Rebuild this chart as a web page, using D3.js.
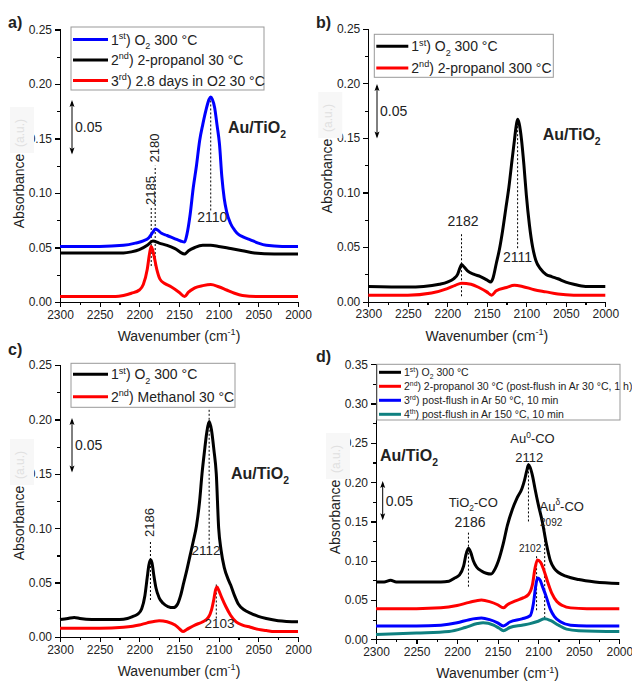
<!DOCTYPE html>
<html>
<head>
<meta charset="utf-8">
<style>
  body { margin: 0; background: #fff; }
  svg text { font-family: 'Liberation Sans', Arial, sans-serif; fill: #222; }
  .axis path, .axis line { fill: none; stroke: #000; stroke-width: 1.2; shape-rendering: crispEdges; }
  .axis text { font-size: 12px; }
</style>
</head>
<body>
<div id="chart"></div>
<script src="https://cdn.jsdelivr.net/npm/d3@7/dist/d3.min.js"></script>
<script>
// ---- data: [wavenumber, absorbance] ----
var aBlue = [[2300,0.051],[2250,0.051],[2220,0.052],[2205,0.054],[2195,0.056],[2188,0.059],[2183,0.064],[2180,0.067],[2177,0.066],[2172,0.063],[2165,0.061],[2155,0.058],[2148,0.056],[2143,0.055],[2140,0.062],[2136,0.080],[2132,0.105],[2128,0.125],[2124,0.148],[2120,0.163],[2116,0.176],[2112,0.186],[2110,0.188],[2108,0.186],[2105,0.178],[2102,0.162],[2099,0.145],[2096,0.115],[2093,0.095],[2090,0.083],[2085,0.072],[2080,0.066],[2075,0.062],[2070,0.060],[2060,0.057],[2050,0.054],[2040,0.052],[2020,0.051],[2000,0.051]];
var aBlack = [[2300,0.045],[2250,0.045],[2220,0.045],[2210,0.046],[2200,0.048],[2190,0.052],[2183,0.056],[2175,0.054],[2165,0.052],[2155,0.049],[2143,0.044],[2138,0.047],[2130,0.050],[2120,0.052],[2110,0.052],[2100,0.051],[2085,0.049],[2070,0.047],[2055,0.045],[2030,0.044],[2000,0.044]];
var aRed = [[2300,0.005],[2250,0.005],[2230,0.005],[2220,0.006],[2210,0.008],[2200,0.011],[2195,0.016],[2190,0.030],[2187,0.045],[2185,0.051],[2182,0.044],[2178,0.030],[2174,0.021],[2168,0.017],[2160,0.014],[2150,0.009],[2143,0.005],[2138,0.009],[2130,0.013],[2120,0.015],[2110,0.016],[2100,0.014],[2090,0.011],[2080,0.008],[2070,0.006],[2050,0.005],[2000,0.005]];

var bBlack = [[2300,0.014],[2250,0.0135],[2230,0.014],[2210,0.016],[2200,0.018],[2192,0.021],[2187,0.025],[2184,0.031],[2182,0.034],[2179,0.032],[2174,0.028],[2166,0.025],[2158,0.023],[2150,0.020],[2145,0.018],[2142,0.022],[2138,0.035],[2134,0.048],[2130,0.065],[2126,0.085],[2122,0.105],[2118,0.130],[2115,0.148],[2113,0.160],[2111,0.167],[2109,0.163],[2106,0.148],[2103,0.125],[2100,0.098],[2096,0.070],[2092,0.050],[2088,0.038],[2082,0.030],[2075,0.025],[2068,0.023],[2060,0.021],[2050,0.018],[2040,0.016],[2025,0.014],[2000,0.014]];
var bRed = [[2300,0.006],[2250,0.006],[2220,0.008],[2200,0.012],[2190,0.015],[2182,0.017],[2170,0.016],[2160,0.013],[2150,0.009],[2144,0.006],[2138,0.010],[2125,0.013],[2115,0.015],[2105,0.014],[2090,0.011],[2075,0.009],[2060,0.007],[2040,0.006],[2000,0.006]];

var cBlack = [[2300,0.016],[2290,0.017],[2282,0.018],[2275,0.017],[2260,0.016],[2240,0.016],[2225,0.016],[2215,0.017],[2208,0.019],[2202,0.021],[2197,0.026],[2193,0.038],[2190,0.055],[2188,0.066],[2186,0.071],[2184,0.068],[2182,0.058],[2179,0.045],[2175,0.036],[2170,0.031],[2164,0.028],[2157,0.027],[2152,0.030],[2148,0.038],[2144,0.050],[2140,0.062],[2136,0.075],[2132,0.088],[2128,0.102],[2124,0.125],[2121,0.150],[2118,0.170],[2115,0.188],[2112,0.198],[2109,0.190],[2106,0.172],[2103,0.150],[2100,0.100],[2097,0.080],[2093,0.064],[2088,0.053],[2085,0.048],[2080,0.038],[2075,0.030],[2068,0.025],[2060,0.022],[2050,0.019],[2040,0.017],[2025,0.015],[2000,0.014]];
var cRed = [[2300,0.008],[2250,0.008],[2220,0.009],[2200,0.011],[2190,0.013],[2175,0.015],[2165,0.014],[2155,0.011],[2150,0.008],[2145,0.005],[2140,0.007],[2130,0.011],[2120,0.014],[2113,0.018],[2109,0.025],[2106,0.035],[2104,0.043],[2102,0.046],[2100,0.043],[2096,0.036],[2091,0.028],[2085,0.020],[2078,0.014],[2070,0.011],[2060,0.009],[2050,0.007],[2040,0.006],[2030,0.005],[2000,0.005]];

var dBlack = [[2300,0.073],[2290,0.073],[2282,0.075],[2275,0.073],[2250,0.073],[2220,0.073],[2210,0.074],[2203,0.078],[2197,0.082],[2192,0.093],[2189,0.108],[2186,0.116],[2183,0.110],[2180,0.100],[2176,0.092],[2170,0.087],[2164,0.084],[2158,0.083],[2153,0.090],[2149,0.100],[2143,0.122],[2138,0.145],[2132,0.165],[2126,0.180],[2120,0.192],[2117,0.202],[2114,0.215],[2112,0.222],[2110,0.219],[2107,0.208],[2104,0.192],[2100,0.172],[2095,0.150],[2090,0.122],[2085,0.100],[2080,0.090],[2075,0.085],[2065,0.080],[2050,0.076],[2030,0.073],[2000,0.071]];
var dRed = [[2300,0.039],[2250,0.039],[2220,0.040],[2200,0.043],[2185,0.047],[2170,0.050],[2160,0.048],[2150,0.044],[2143,0.040],[2138,0.044],[2128,0.049],[2118,0.053],[2112,0.057],[2107,0.070],[2104,0.090],[2101,0.101],[2097,0.098],[2093,0.088],[2088,0.072],[2083,0.058],[2077,0.048],[2070,0.043],[2060,0.040],[2040,0.039],[2000,0.039]];
var dBlue = [[2300,0.017],[2250,0.017],[2220,0.018],[2200,0.021],[2185,0.025],[2170,0.027],[2160,0.025],[2150,0.021],[2143,0.017],[2135,0.022],[2120,0.026],[2110,0.030],[2106,0.045],[2103,0.068],[2101,0.078],[2098,0.076],[2095,0.068],[2090,0.054],[2085,0.038],[2080,0.029],[2072,0.022],[2060,0.018],[2040,0.017],[2000,0.017]];
var dTeal = [[2300,0.006],[2250,0.008],[2210,0.010],[2190,0.015],[2175,0.020],[2168,0.021],[2155,0.018],[2148,0.014],[2143,0.011],[2135,0.015],[2120,0.018],[2110,0.020],[2100,0.023],[2092,0.026],[2085,0.024],[2075,0.018],[2065,0.013],[2050,0.011],[2000,0.010]];

// legend labels: [text, "sup"/"sub"/""]
var aLegend = [
  [["1",""],["st","sup"],[") O",""],["2","sub"],[" 300 °C",""]],
  [["2",""],["nd","sup"],[") 2-propanol 30 °C",""]],
  [["3",""],["rd","sup"],[") 2.8 days in O2 30 °C",""]]
];
var bLegend = [
  [["1",""],["st","sup"],[") O",""],["2","sub"],[" 300 °C",""]],
  [["2",""],["nd","sup"],[") 2-propanol 300 °C",""]]
];
var cLegend = [
  [["1",""],["st","sup"],[") O",""],["2","sub"],[" 300 °C",""]],
  [["2",""],["nd","sup"],[") Methanol 30 °C",""]]
];
var dLegend = [
  [["1",""],["st","sup"],[") O",""],["2","sub"],[" 300 °C",""]],
  [["2",""],["nd","sup"],[") 2-propanol 30 °C (post-flush in Ar 30 °C, 1 h)",""]],
  [["3",""],["rd","sup"],[") post-flush in Ar 50 °C, 10 min",""]],
  [["4",""],["th","sup"],[") post-flush in Ar 150 °C, 10 min",""]]
];

var xTicks = [2300, 2250, 2200, 2150, 2100, 2050, 2000];

var svg = d3.select("#chart").append("svg")
  .attr("width", 632).attr("height", 682);

function rich(g, x, y, parts, size, weight) {
  var t = g.append("text").attr("x", x).attr("y", y)
    .style("font-size", size + "px").style("font-weight", weight || "normal");
  var shift = 0;
  parts.forEach(function (p) {
    var s = p[0], k = p[1];
    var target = k === "sup" ? -size * 0.4 : (k === "sub" ? size * 0.3 : 0);
    var ts = t.append("tspan").text(s).attr("dy", target - shift);
    shift = target;
    if (k) ts.style("font-size", (size * 0.65) + "px");
  });
  return t;
}

function panel(o) {
  var g = svg.append("g");
  var x = d3.scaleLinear().domain([2300, 2000]).range([o.x0, o.x1]);
  var y = d3.scaleLinear().domain([0, o.ymax]).range([o.yb, o.yt]);

  // minor + major ticks
  var xMinor = d3.range(2300, 1999, -25);
  g.append("g").attr("class", "axis")
    .attr("transform", "translate(0," + o.yb + ")")
    .call(d3.axisBottom(x).tickValues(xMinor).tickSize(3).tickFormat(""));
  g.append("g").attr("class", "axis")
    .attr("transform", "translate(0," + o.yb + ")")
    .call(d3.axisBottom(x).tickValues(xTicks).tickSize(5).tickPadding(3).tickFormat(d3.format("d")));
  var yMinor = d3.range(0, o.ymax + 0.001, 0.025);
  var yMajor = d3.range(0, o.ymax + 0.001, 0.05);
  g.append("g").attr("class", "axis")
    .attr("transform", "translate(" + o.x0 + ",0)")
    .call(d3.axisLeft(y).tickValues(yMinor).tickSize(3).tickFormat(""));
  g.append("g").attr("class", "axis")
    .attr("transform", "translate(" + o.x0 + ",0)")
    .call(d3.axisLeft(y).tickValues(yMajor).tickSize(5).tickPadding(3).tickFormat(d3.format(".2f")));
  g.selectAll(".axis .domain").attr("stroke-width", 1.5);

  // axis titles
  rich(g, (o.x0 + o.x1) / 2, o.yb + 39, [["Wavenumber (cm", ""], ["-1", "sup"], [")", ""]], 14)
    .attr("text-anchor", "middle");
  var yl = g.append("g").attr("transform", "translate(" + (o.x0 - 36) + "," + o.ylab + ") rotate(-90)");
  yl.append("rect").attr("x", 38).attr("y", -14).attr("width", 46).attr("height", 24).attr("fill", "#f7f7f7");
  yl.append("text").attr("x", 0).attr("y", 0).attr("text-anchor", "middle")
    .style("font-size", "14px").text("Absorbance");
  yl.append("text").attr("x", 44).attr("y", 0)
    .style("font-size", "12px").style("fill", "#e0e0e0").text("(a.u.)");

  // panel letter
  g.append("text").attr("x", o.letter[1]).attr("y", o.letter[2])
    .style("font-size", "16px").style("font-weight", "bold").text(o.letter[0]);

  // dashed markers
  o.marks.forEach(function (m) {
    g.append("line").attr("x1", x(m.w)).attr("x2", x(m.w))
      .attr("y1", y(m.lo)).attr("y2", y(m.hi))
      .attr("stroke", "#000").attr("stroke-width", 1).attr("stroke-dasharray", "2,2");
  });

  // spectra
  var line = d3.line().x(function (d) { return x(d[0]); }).y(function (d) { return y(d[1]); })
    .curve(d3.curveMonotoneX);
  o.series.forEach(function (s) {
    g.append("path").datum(s.data).attr("d", line)
      .attr("fill", "none").attr("stroke", s.color).attr("stroke-width", 3)
      .attr("stroke-linejoin", "round");
  });

  // peak labels
  o.labels.forEach(function (l) {
    var t = rich(g, 0, 0, l.parts, l.size || 13);
    if (l.rot) {
      t.attr("transform", "translate(" + (x(l.w) + 4) + "," + y(l.at) + ") rotate(-90)");
    } else {
      t.attr("x", x(l.w)).attr("y", y(l.at)).attr("text-anchor", "middle");
    }
  });

  // legend
  var L = o.legend;
  g.append("rect").attr("x", L.x).attr("y", L.y).attr("width", L.w).attr("height", L.h)
    .attr("fill", "#fff").attr("stroke", "#999").attr("stroke-width", 1);
  L.rows.forEach(function (r, i) {
    var yy = L.y + L.first + i * L.step;
    g.append("line").attr("x1", L.x + 2).attr("x2", L.x + L.len)
      .attr("y1", yy).attr("y2", yy).attr("stroke", o.series[i].color).attr("stroke-width", 3);
    rich(g, L.x + L.len + 3, yy + L.size * 0.36, r, L.size);
  });

  // 0.05 scale bar with arrow heads
  var S = o.bar, len = y(0) - y(0.05), ytop = S.y, ybot = S.y + len;
  g.append("line").attr("x1", S.x).attr("x2", S.x).attr("y1", ytop + 2).attr("y2", ybot - 2)
    .attr("stroke", "#000").attr("stroke-width", 1);
  g.append("path").attr("fill", "#000")
    .attr("d", "M" + S.x + "," + ytop + "l-2.5,7 l2.5,-1.5 l2.5,1.5Z" +
               "M" + S.x + "," + ybot + "l-2.5,-7 l2.5,1.5 l2.5,-1.5Z");
  g.append("text").attr("x", S.x + 3).attr("y", ytop + len / 2 + 5)
    .style("font-size", "14px").text("0.05");

  rich(g, o.title[0], o.title[1], [["Au/TiO", ""], ["2", "sub"]], 16, "bold");
}

panel({
  letter: ["a)", 8, 28], ylab: 191,
  x0: 60, x1: 298, yb: 302, yt: 29.5, ymax: 0.25,
  series: [{ data: aBlue, color: "#0000ff" }, { data: aBlack, color: "#000" }, { data: aRed, color: "#ff0000" }],
  marks: [{ w: 2185, lo: 0.033, hi: 0.087 }, { w: 2180, lo: 0.033, hi: 0.125 }, { w: 2110, lo: 0.084, hi: 0.188 }],
  labels: [
    { w: 2185, at: 0.089, rot: true, parts: [["2185", ""]] },
    { w: 2180, at: 0.128, rot: true, parts: [["2180", ""]] },
    { w: 2108, at: 0.073, parts: [["2110", ""]], size: 14 }
  ],
  legend: { x: 71, y: 27, w: 193, h: 63, len: 37, first: 12.5, step: 20.5, size: 14, rows: aLegend },
  bar: { x: 72, y: 100 },
  title: [228, 133]
});

panel({
  letter: ["b)", 316, 28], ylab: 176,
  x0: 368.3, x1: 605.3, yb: 301.7, yt: 28.7, ymax: 0.25,
  series: [{ data: bBlack, color: "#000" }, { data: bRed, color: "#ff0000" }],
  marks: [{ w: 2182, lo: 0.005, hi: 0.063 }, { w: 2111, lo: 0.049, hi: 0.167 }],
  labels: [
    { w: 2180, at: 0.069, parts: [["2182", ""]], size: 14 },
    { w: 2111, at: 0.036, parts: [["2111", ""]], size: 14 }
  ],
  legend: { x: 374.3, y: 34.3, w: 179, h: 43, len: 34, first: 12, step: 21.6, size: 14, rows: bLegend },
  bar: { x: 377, y: 84 },
  title: [542.7, 140]
});

panel({
  letter: ["c)", 8, 355], ylab: 523,
  x0: 60, x1: 298, yb: 637, yt: 365, ymax: 0.25,
  series: [{ data: cBlack, color: "#000" }, { data: cRed, color: "#ff0000" }],
  marks: [{ w: 2186, lo: 0.034, hi: 0.088 }, { w: 2112, lo: 0.082, hi: 0.211 }, { w: 2103, lo: 0.017, hi: 0.049 }],
  labels: [
    { w: 2186, at: 0.092, rot: true, parts: [["2186", ""]] },
    { w: 2116, at: 0.075, parts: [["2112", ""]], size: 13.5 },
    { w: 2099, at: 0.008, parts: [["2103", ""]], size: 13.5 }
  ],
  legend: { x: 71, y: 363.3, w: 164, h: 44, len: 37, first: 11, step: 22.4, size: 14, rows: cLegend },
  bar: { x: 72, y: 418 },
  title: [231, 479]
});

panel({
  letter: ["d)", 316, 362], ylab: 517,
  x0: 376, x1: 619.3, yb: 639.3, yt: 364.3, ymax: 0.35,
  series: [{ data: dBlack, color: "#000" }, { data: dRed, color: "#ff0000" }, { data: dBlue, color: "#0000ff" }, { data: dTeal, color: "#0f8080" }],
  marks: [{ w: 2186, lo: 0.067, hi: 0.136 }, { w: 2112, lo: 0.150, hi: 0.225 }, { w: 2102, lo: 0.037, hi: 0.106 }, { w: 2092, lo: 0.027, hi: 0.142 }],
  labels: [
    { w: 2184, at: 0.1425, parts: [["2186", ""]], size: 14 },
    { w: 2180, at: 0.168, parts: [["TiO", ""], ["2", "sub"], ["-CO", ""]], size: 13 },
    { w: 2111, at: 0.226, parts: [["2112", ""]], size: 13 },
    { w: 2107, at: 0.2495, parts: [["Au", ""], ["0", "sup"], ["-CO", ""]], size: 13 },
    { w: 2110, at: 0.1107, parts: [["2102", ""]], size: 10 },
    { w: 2084, at: 0.1446, parts: [["2092", ""]], size: 10 },
    { w: 2071, at: 0.1637, parts: [["Au", ""], ["δ", "sup"], ["-CO", ""]], size: 13 }
  ],
  legend: { x: 377, y: 364.3, w: 243, h: 55.7, len: 24, first: 8, step: 14, size: 10.5, rows: dLegend },
  bar: { x: 382.7, y: 481 },
  title: [380, 461]
});
</script>
</body>
</html>
